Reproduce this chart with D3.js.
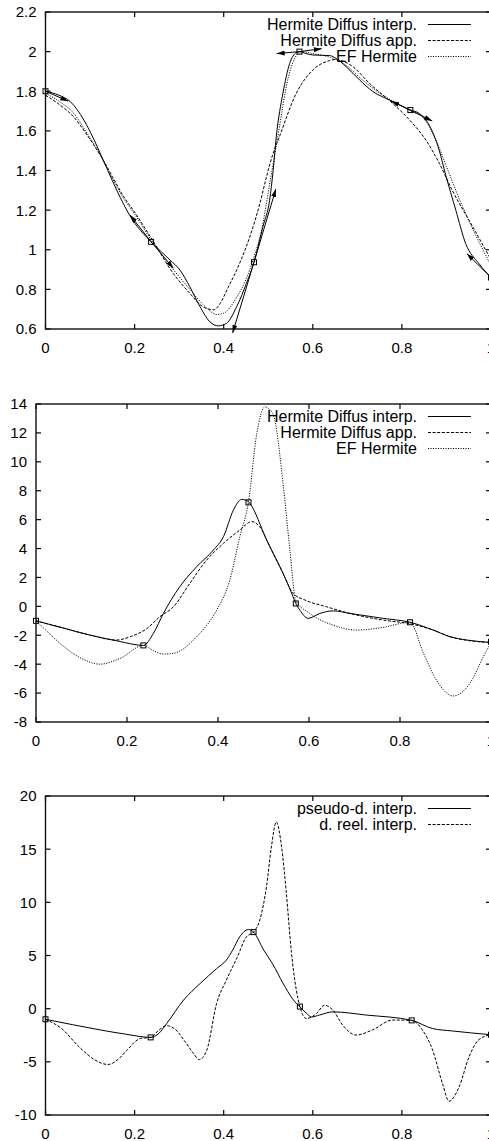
<!DOCTYPE html>
<html><head><meta charset="utf-8">
<script src="https://cdn.jsdelivr.net/npm/d3@7"></script>
<style>
body{margin:0;background:#fff}
svg{display:block}
text{font-family:"Liberation Sans",Arial,Helvetica,sans-serif;fill:#000}
</style>
</head><body>
<svg id="c" width="489" height="1141"></svg>
<script>
// ---------- shared tick labels ----------
const xTicks = [0, 0.2, 0.4, 0.6, 0.8, 1];
const xTickLabels = ["0", "0.2", "0.4", "0.6", "0.8", "1"];

// ---------- panel 1 ----------
const p1YTicks = [0.6, 0.8, 1, 1.2, 1.4, 1.6, 1.8, 2, 2.2];
const p1YTickLabels = ["0.6", "0.8", "1", "1.2", "1.4", "1.6", "1.8", "2", "2.2"];
const p1Labels = ["Hermite Diffus interp.", "Hermite Diffus app.", "EF Hermite"];
const p1Interp = [[0,1.8],[0.03,1.78],[0.056,1.747],[0.086,1.655],[0.108,1.56],[0.125,1.475],[0.14,1.40],[0.16,1.30],[0.19,1.17],[0.237,1.04],[0.26,0.99],[0.28,0.947],[0.302,0.897],[0.324,0.813],[0.347,0.712],[0.369,0.636],[0.388,0.616],[0.406,0.628],[0.429,0.712],[0.451,0.83],[0.468,0.937],[0.488,1.116],[0.503,1.25],[0.511,1.40],[0.518,1.57],[0.533,1.79],[0.548,1.94],[0.563,1.995],[0.57,2.0],[0.585,1.99],[0.60,1.983],[0.638,1.98],[0.652,1.966],[0.675,1.924],[0.705,1.857],[0.734,1.80],[0.776,1.752],[0.819,1.705],[0.839,1.688],[0.861,1.63],[0.884,1.50],[0.898,1.38],[0.921,1.20],[0.943,1.032],[0.973,0.93],[1.0,0.86]];
const p1App = [[0,1.78],[0.03,1.735],[0.063,1.671],[0.09,1.59],[0.108,1.53],[0.125,1.47],[0.15,1.37],[0.175,1.27],[0.2,1.19],[0.237,1.06],[0.287,0.88],[0.324,0.78],[0.355,0.71],[0.378,0.697],[0.392,0.729],[0.41,0.81],[0.429,0.897],[0.448,1.0],[0.466,1.116],[0.482,1.24],[0.496,1.368],[0.51,1.48],[0.525,1.57],[0.563,1.79],[0.60,1.907],[0.638,1.955],[0.65,1.96],[0.69,1.924],[0.727,1.84],[0.779,1.739],[0.824,1.638],[0.854,1.553],[0.884,1.436],[0.913,1.30],[0.958,1.12],[1.0,0.95]];
const p1EF = [[0,1.79],[0.03,1.75],[0.063,1.69],[0.09,1.60],[0.108,1.535],[0.125,1.47],[0.15,1.36],[0.175,1.26],[0.2,1.18],[0.237,1.05],[0.287,0.90],[0.324,0.80],[0.36,0.71],[0.384,0.673],[0.40,0.68],[0.429,0.76],[0.45,0.85],[0.466,0.95],[0.485,1.10],[0.503,1.33],[0.52,1.55],[0.545,1.87],[0.563,1.98],[0.575,2.0],[0.6,1.99],[0.64,1.97],[0.675,1.93],[0.71,1.86],[0.75,1.79],[0.78,1.75],[0.82,1.70],[0.85,1.66],[0.875,1.56],[0.9,1.42],[0.93,1.25],[0.96,1.10],[1.0,0.92]];
const p1Nodes = [[0,1.8],[0.237,1.04],[0.468,0.937],[0.570,2.0],[0.819,1.705],[1.0,0.86]];
const p1Arrows = [[0,1.8,0.051,1.75],[0.237,1.04,0.19,1.175],[0.237,1.04,0.287,0.907],[0.468,0.937,0.42,0.58],[0.468,0.937,0.517,1.306],[0.57,2.0,0.519,1.99],[0.57,2.0,0.62,2.015],[0.819,1.705,0.776,1.75],[0.819,1.705,0.868,1.65],[1.0,0.86,0.946,0.98]];

// ---------- panel 2 ----------
const p2YTicks = [-8, -6, -4, -2, 0, 2, 4, 6, 8, 10, 12, 14];
const p2YTickLabels = ["-8", "-6", "-4", "-2", "0", "2", "4", "6", "8", "10", "12", "14"];
const p2Labels = ["Hermite Diffus interp.", "Hermite Diffus app.", "EF Hermite"];
const p2Interp = [[0,-1.0],[0.06,-1.5],[0.12,-2.0],[0.18,-2.4],[0.236,-2.7],[0.258,-1.87],[0.28,-0.49],[0.316,1.36],[0.353,2.74],[0.39,3.9],[0.412,4.82],[0.434,6.67],[0.452,7.40],[0.467,7.24],[0.47,7.13],[0.507,4.59],[0.543,2.28],[0.565,0.67],[0.571,0.2],[0.58,-0.26],[0.598,-0.83],[0.624,-0.49],[0.653,-0.31],[0.69,-0.49],[0.763,-0.83],[0.822,-1.1],[0.873,-1.64],[0.91,-2.10],[0.947,-2.33],[1.0,-2.5]];
const p2App = [[0,-1.0],[0.06,-1.5],[0.12,-2.0],[0.177,-2.33],[0.207,-2.1],[0.243,-1.55],[0.272,-0.72],[0.302,-0.03],[0.338,1.59],[0.375,3.2],[0.412,4.36],[0.448,5.28],[0.474,5.86],[0.492,5.5],[0.514,4.12],[0.543,2.28],[0.565,0.9],[0.591,0.44],[0.639,-0.03],[0.69,-0.49],[0.763,-0.95],[0.822,-1.2],[0.873,-1.64],[0.91,-2.1],[0.947,-2.35],[1.0,-2.5]];
const p2EF = [[0,-1.0],[0.03,-1.9],[0.06,-2.75],[0.1,-3.6],[0.14,-4.0],[0.185,-3.6],[0.236,-2.7],[0.26,-3.1],[0.28,-3.3],[0.302,-3.25],[0.353,-2.1],[0.397,-0.26],[0.426,1.82],[0.448,4.82],[0.467,7.24],[0.485,11.9],[0.503,13.8],[0.521,13.3],[0.543,8.5],[0.558,3.9],[0.571,0.4],[0.6,-0.45],[0.653,-1.3],[0.705,-1.64],[0.763,-1.45],[0.822,-1.1],[0.851,-3.2],[0.88,-5.1],[0.917,-6.2],[0.954,-5.3],[0.983,-3.5],[1.0,-2.5]];
const p2Nodes = [[0,-1.0],[0.236,-2.7],[0.467,7.2],[0.571,0.2],[0.822,-1.1],[1.0,-2.45]];

// ---------- panel 3 ----------
const p3YTicks = [-10, -5, 0, 5, 10, 15, 20];
const p3YTickLabels = ["-10", "-5", "0", "5", "10", "15", "20"];
const p3Labels = ["pseudo-d. interp.", "d. reel. interp."];
const p3Pseudo = [[0,-1.0],[0.06,-1.5],[0.123,-2.0],[0.18,-2.4],[0.236,-2.7],[0.255,-2.3],[0.272,-1.4],[0.31,0.81],[0.347,2.36],[0.384,3.77],[0.406,4.57],[0.42,5.5],[0.436,6.76],[0.455,7.44],[0.467,7.2],[0.49,5.5],[0.51,4.2],[0.533,2.4],[0.555,0.9],[0.571,0.16],[0.585,-0.4],[0.597,-0.78],[0.615,-0.6],[0.645,-0.3],[0.72,-0.6],[0.822,-1.1],[0.869,-1.87],[0.914,-2.1],[1.0,-2.45]];
const p3Reel = [[0,-1.0],[0.034,-1.8],[0.078,-3.7],[0.11,-4.8],[0.14,-5.25],[0.165,-4.7],[0.183,-3.9],[0.213,-2.8],[0.236,-2.7],[0.255,-2.0],[0.272,-1.6],[0.29,-1.9],[0.315,-3.2],[0.332,-4.2],[0.345,-4.8],[0.362,-3.9],[0.384,0.48],[0.406,2.69],[0.43,4.8],[0.451,6.76],[0.467,7.2],[0.481,8.34],[0.496,11.47],[0.507,15.2],[0.518,17.56],[0.53,15.2],[0.54,11.16],[0.552,5.3],[0.563,1.75],[0.571,0.2],[0.585,-0.93],[0.608,-0.47],[0.626,0.32],[0.645,-0.13],[0.667,-1.54],[0.697,-2.48],[0.734,-2.0],[0.779,-1.07],[0.822,-1.1],[0.846,-2.0],[0.869,-3.9],[0.891,-7.03],[0.906,-8.7],[0.928,-7.4],[0.951,-4.5],[0.973,-2.9],[1.0,-2.45]];
const p3Nodes = [[0,-1.0],[0.236,-2.7],[0.467,7.2],[0.571,0.2],[0.822,-1.1],[1.0,-2.45]];

// ---------- styles ----------
const dashStyles = [null, "3,1.6", "1.1,1.4"];

const svg = d3.select("#c");
const defs = svg.append("defs");
defs.append("marker").attr("id", "ah")
  .attr("markerUnits", "userSpaceOnUse")
  .attr("markerWidth", 9).attr("markerHeight", 7)
  .attr("refX", 8).attr("refY", 3.5).attr("orient", "auto")
  .append("path").attr("d", "M0,1 L8,3.5 L0,6 Z").attr("fill", "#000");

function panel(box, yDomain, yTicks, yTickLabels, series, labels, nodes, arrows, id) {
  const x = d3.scaleLinear().domain([0, 1]).range([box.l, box.r]);
  const y = d3.scaleLinear().domain(yDomain).range([box.b, box.t]);
  const g = svg.append("g");

  defs.append("clipPath").attr("id", "clip" + id)
    .append("rect").attr("x", box.l).attr("y", box.t)
    .attr("width", box.r - box.l).attr("height", box.b - box.t);

  // ticks (inward, mirrored)
  const tk = 5;
  const tg = g.append("g").attr("stroke", "#000").attr("stroke-width", 1.2);
  xTicks.forEach(v => {
    const px = x(v);
    tg.append("line").attr("x1", px).attr("x2", px).attr("y1", box.b).attr("y2", box.b - tk);
    tg.append("line").attr("x1", px).attr("x2", px).attr("y1", box.t).attr("y2", box.t + tk);
  });
  yTicks.forEach(v => {
    const py = y(v);
    tg.append("line").attr("x1", box.l).attr("x2", box.l + tk).attr("y1", py).attr("y2", py);
    tg.append("line").attr("x1", box.r).attr("x2", box.r - tk).attr("y1", py).attr("y2", py);
  });

  // tick labels
  xTicks.forEach((v, i) => {
    g.append("text").attr("x", x(v)).attr("y", box.b + 23.5)
      .attr("text-anchor", "middle").attr("font-size", 15).text(xTickLabels[i]);
  });
  yTicks.forEach((v, i) => {
    g.append("text").attr("x", box.l - 9).attr("y", y(v)).attr("dy", "0.36em")
      .attr("text-anchor", "end").attr("font-size", 15).text(yTickLabels[i]);
  });

  // border
  g.append("rect").attr("x", box.l).attr("y", box.t)
    .attr("width", box.r - box.l).attr("height", box.b - box.t)
    .attr("fill", "none").attr("stroke", "#111").attr("stroke-width", 1.4);

  // curves
  const line = d3.line().x(d => x(d[0])).y(d => y(d[1])).curve(d3.curveMonotoneX);
  const cg = g.append("g").attr("clip-path", `url(#clip${id})`);
  series.forEach((s, i) => {
    cg.append("path").attr("d", line(s)).attr("fill", "none")
      .attr("stroke", "#000").attr("stroke-width", 1)
      .attr("stroke-dasharray", dashStyles[i]);
  });

  // legend
  labels.forEach((lab, i) => {
    const by = box.t + 17.5 + 16 * i;
    g.append("text").attr("x", 417).attr("y", by).attr("text-anchor", "end")
      .attr("font-size", 16).text(lab);
    g.append("line").attr("x1", 428).attr("x2", 471).attr("y1", by - 5).attr("y2", by - 5)
      .attr("stroke", "#000").attr("stroke-width", 1).attr("stroke-dasharray", dashStyles[i]);
  });

  // arrows
  (arrows || []).forEach(a => {
    g.append("line").attr("x1", x(a[0])).attr("y1", y(a[1]))
      .attr("x2", x(a[2])).attr("y2", y(a[3]))
      .attr("stroke", "#000").attr("stroke-width", 1).attr("marker-end", "url(#ah)");
  });

  // nodes
  nodes.forEach(n => {
    g.append("rect").attr("x", x(n[0]) - 2.5).attr("y", y(n[1]) - 2.5)
      .attr("width", 5).attr("height", 5)
      .attr("fill", "none").attr("stroke", "#000").attr("stroke-width", 1);
  });
}

panel({l: 45.5, r: 491, t: 12, b: 329}, [0.6, 2.2], p1YTicks, p1YTickLabels,
  [p1Interp, p1App, p1EF], p1Labels, p1Nodes, p1Arrows, 1);
panel({l: 36, r: 491, t: 404, b: 722}, [-8, 14], p2YTicks, p2YTickLabels,
  [p2Interp, p2App, p2EF], p2Labels, p2Nodes, null, 2);
panel({l: 45.5, r: 491, t: 796, b: 1115}, [-10, 20], p3YTicks, p3YTickLabels,
  [p3Pseudo, p3Reel], p3Labels, p3Nodes, null, 3);
</script>
</body></html>
